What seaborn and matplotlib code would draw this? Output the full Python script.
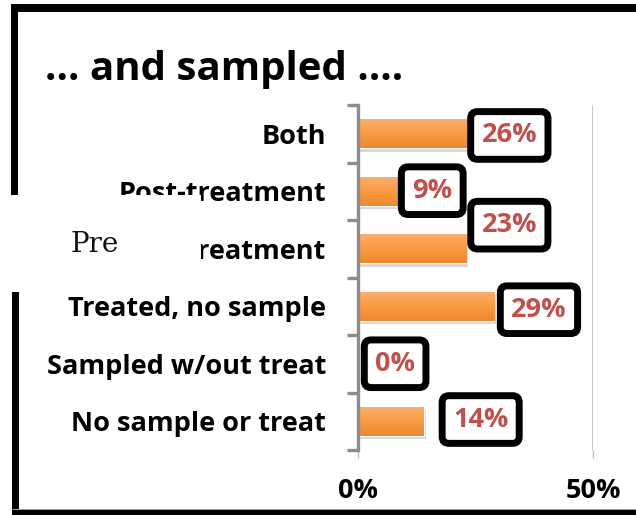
import numpy as np
import pandas as pd
import matplotlib
matplotlib.use("Agg")
import matplotlib.pyplot as plt
import matplotlib.patheffects as pe
from matplotlib.colors import LinearSegmentedColormap
from matplotlib.patches import Rectangle
import seaborn as sns

# ---- data -------------------------------------------------------------
categories = ["Both", "Post-treatment", "Pre-treatment",
              "Treated, no sample", "Sampled w/out treat", "No sample or treat"]
shares = [26, 9, 23, 29, 0, 14]
x_ticks = [0, 50]
x_tick_labels = ["0%", "50%"]
title = "\u2026 and sampled \u2026."

# ---- layout of the value call-outs (x in percent, y in category units) --
label_x = [32.2, 15.8, 32.2, 38.5, 7.9, 26.1]
label_dy = [0.03, -0.01, -0.41, 0.06, 0.0, -0.03]

W, H, DPI = 636, 515, 100
sns.set_theme(style="white")
plt.rcParams["font.family"] = ["Open Sans", "DejaVu Sans"]

fig = plt.figure(figsize=(W / DPI, H / DPI), dpi=DPI)
fig.patch.set_facecolor("white")

# plot area in pixel terms: x 358..593, y 105..450 from the top
ax = fig.add_axes([358 / W, 1 - 450 / H, (593 - 358) / W, (450 - 105) / H])

df = pd.DataFrame({"category": categories, "share": shares})
sns.barplot(data=df, y="category", x="share", orient="h", width=0.5,
            color="#F79646", saturation=1, ax=ax, zorder=3)

ax.set_xlim(0, 50)
ax.set_ylim(len(categories) - 0.5, -0.5)

# orange vertical gradient on each bar, with a soft drop shadow
grad_cmap = LinearSegmentedColormap.from_list(
    "bar_grad", ["#FBAE6C", "#F99A42", "#EE8830"])
gradient = np.linspace(0, 1, 64).reshape(-1, 1)
for bar in list(ax.patches):
    w = bar.get_width()
    if w <= 0:
        bar.set_visible(False)
        continue
    x0, y0 = bar.get_x(), bar.get_y()
    h = bar.get_height()
    bar.set_path_effects([pe.SimplePatchShadow(offset=(1.5, -2.5),
                                               shadow_rgbFace="#666666",
                                               alpha=0.25),
                          pe.Normal()])
    im = ax.imshow(gradient, cmap=grad_cmap, aspect="auto", origin="upper",
                   extent=(x0, x0 + w, y0 + h, y0), zorder=4,
                   interpolation="bilinear")
    im.set_clip_path(bar)

ax.set_xlim(0, 50)
ax.set_ylim(len(categories) - 0.5, -0.5)

# axes styling
for side in ("top", "right", "bottom"):
    ax.spines[side].set_visible(False)
ax.spines["left"].set_color("#8C8C8C")
ax.spines["left"].set_linewidth(2.4)
ax.spines["left"].set_zorder(6)

ax.set_xticks(x_ticks)
ax.set_xticklabels(x_tick_labels, fontsize=19.5, fontweight="bold", color="black")
ax.tick_params(axis="x", length=6, width=1, color="#BFBFBF", pad=14,
               bottom=True)
ax.xaxis.grid(True, color="#BFBFBF", linewidth=1.2)
ax.yaxis.grid(False)
ax.set_axisbelow(True)

ax.set_yticks(np.arange(-0.5, len(categories), 1.0), minor=True)
ax.tick_params(axis="y", which="minor", length=8, width=2.4, color="#8C8C8C",
               left=True)
ax.tick_params(axis="y", which="major", length=0, pad=23)
ax.set_yticklabels(categories, fontsize=19.5, fontweight="bold", color="black")
ax.set_xlabel("")
ax.set_ylabel("")

# boxed percentage call-outs
for i, v in enumerate(shares):
    ax.text(label_x[i], i + label_dy[i], f"{v}%", ha="center", va="center",
            fontsize=19.5, fontweight="bold", color="#C0504D", zorder=8,
            bbox=dict(boxstyle="round,pad=0.4,rounding_size=0.25",
                      facecolor="white", edgecolor="black", linewidth=5))

# ---- slide frame and overlays in pixel coordinates ---------------------
ov = fig.add_axes([0, 0, 1, 1], zorder=10)
ov.set_xlim(0, W)
ov.set_ylim(H, 0)
ov.axis("off")
ov.patch.set_alpha(0)

black = "black"
ov.add_patch(Rectangle((11, 4), W - 11, 8, color=black, lw=0))      # top edge
ov.add_patch(Rectangle((11, 4), 7, 191, color=black, lw=0))         # left edge, upper
ov.add_patch(Rectangle((12, 292), 7, H - 292, color=black, lw=0))   # left edge, lower
ov.add_patch(Rectangle((12, 509), W - 12, 1.2, color="#A0A0A0", lw=0))
ov.add_patch(Rectangle((12, 510), W - 12, 5, color=black, lw=0))    # bottom edge

# white panel over the left of the middle labels
ov.add_patch(Rectangle((0, 195), 201, 97, color="white", lw=0))
ov.text(70, 252, "Pre", fontsize=20, family=["DejaVu Serif"],
        color="#111111", ha="left", va="baseline")

ov.text(45, 80, title, fontsize=29, fontweight="bold", color="black",
        ha="left", va="baseline")

fig.savefig("out.png", dpi=DPI)
